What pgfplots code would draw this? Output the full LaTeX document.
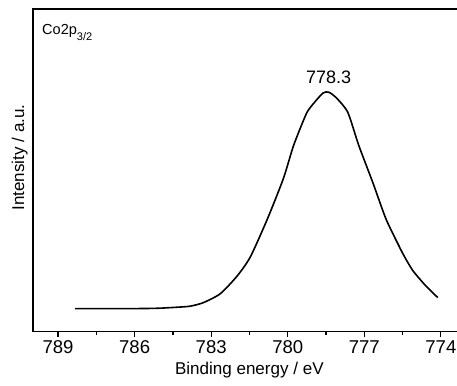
\documentclass[border=0pt]{standalone}
\usepackage{pgfplots}
\pgfplotsset{compat=1.18}
\usepackage{fontspec}
\setmainfont{Liberation Sans}
\pgfplotstableread{
E I
788.33 23
787.50 23
786.50 23
785.50 23.2
785.00 23.5
784.30 24.5
783.82 25.5
783.31 29
782.64 38
781.97 56
781.46 75
780.79 113
780.17 153
779.77 186
779.30 216
779.11 224
778.63 238
778.40 239
778.12 234
777.65 219
777.22 186
776.67 149
776.16 113
775.69 88
775.45 76
775.10 61
774.60 46
774.12 34
}\datatable
\begin{document}
\begin{tikzpicture}
\path[use as bounding box] (-33pt,-54pt) rectangle (423pt,331pt);
\begin{axis}[
  scale only axis, width=424pt, height=322pt,
  at={(0,0)}, anchor=south west,
  x dir=reverse, xmin=773.33, xmax=789.98, ymin=0, ymax=322,
  xtick={789,786,783,780,777,774},
  minor x tick num=1,
  ytick=\empty,
  xtick pos=bottom, tick align=outside,
  major tick length=5.5pt, minor tick length=3pt,
  every tick/.style={black, line width=1.2pt},
  axis line style={line width=1.4pt},
  /pgf/number format/assume math mode=true,
  /pgf/number format/1000 sep={},
  xticklabel style={font=\fontsize{18.5}{20}\selectfont},
  xlabel={Binding energy / eV},
  ylabel={Intensity / a.u.},
  xlabel style={font=\fontsize{17}{19}\selectfont, at={(axis description cs:0.509,-0.1335)}, anchor=base, inner sep=0pt},
  ylabel style={font=\fontsize{17}{19}\selectfont, at={(axis description cs:-0.012,0.54)}, anchor=south, inner sep=0pt},
  clip=false,
]
\addplot[black, line width=1.6pt, smooth, tension=0.4] table[x=E, y=I] {\datatable};
\node[font=\fontsize{18}{20}\selectfont, anchor=center] at (axis cs:778.4,254) {778.3};
\node[font=\fontsize{14.5}{16}\selectfont, anchor=base west, inner sep=0pt] at (rel axis cs:0.021,0.922) {Co2p\raisebox{-6pt}{\fontsize{11}{11}\selectfont 3/2}};
\end{axis}
\end{tikzpicture}
\end{document}
